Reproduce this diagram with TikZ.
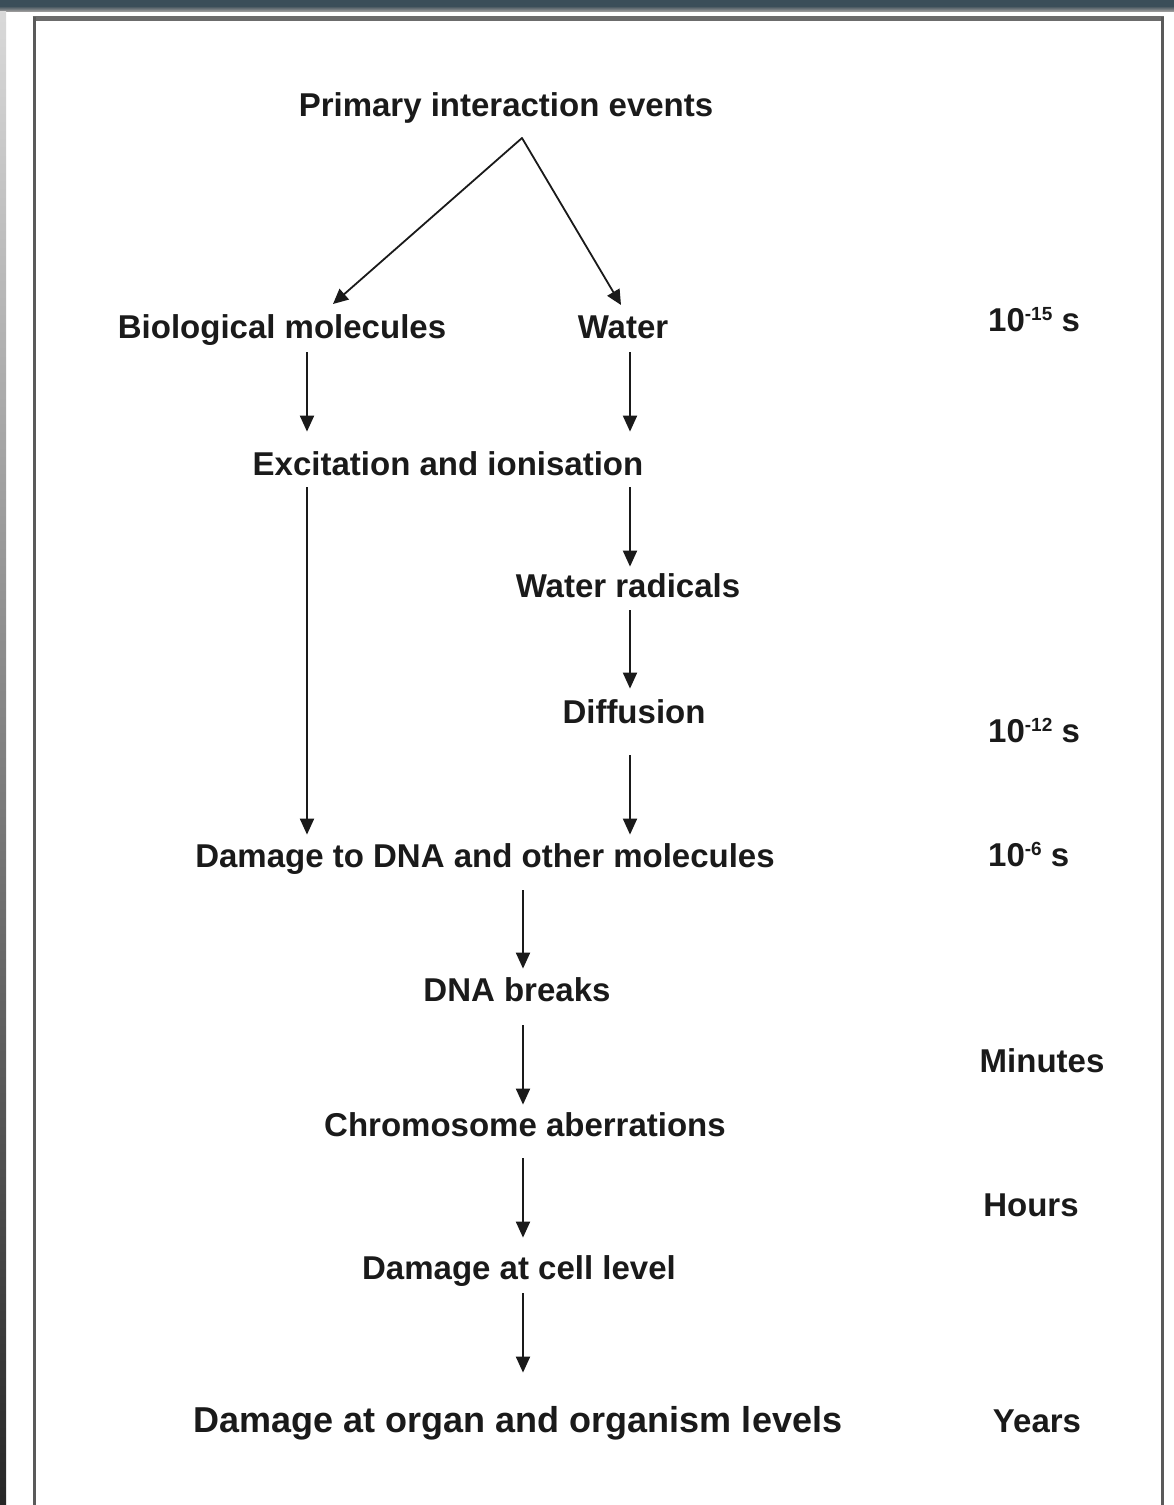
\documentclass[tikz,border=0pt]{standalone}
\usepackage{fontspec}
\setmainfont{Liberation Sans}
\usetikzlibrary{arrows.meta}
\definecolor{ink}{HTML}{1A1A1A}
\definecolor{topbar}{HTML}{3B4E59}
\definecolor{boxline}{HTML}{5A5A5A}
\newcommand{\tsup}[1]{\raisebox{11pt}{\fontsize{19}{20}\selectfont\bfseries #1}}
\begin{document}
\begin{tikzpicture}[x=1pt,y=-1pt,
  lbl/.style={font=\fontsize{33}{40}\selectfont\bfseries, text=ink, inner sep=0pt,
              text height=24pt, text depth=0pt, anchor=south},
  biglbl/.style={lbl, font=\fontsize{36}{43}\selectfont\bfseries, text height=26pt},
  timelbl/.style={lbl},
  arr/.style={draw=ink, line width=2pt, -{Triangle[width=14pt,length=16pt]}},
  slant/.style={draw=ink, line width=1.8pt, line cap=round, -{Triangle[width=14pt,length=15pt]}},
]
% page and frame
\useasboundingbox (0,0) rectangle (1174,1505);
\fill[white] (0,0) rectangle (1174,1505);
\fill[topbar] (0,0) rectangle (1174,7);
\shade[top color=topbar!70!gray, bottom color=gray!80] (0,7) rectangle (1174,11);
\shade[top color=gray!30, bottom color=black!85] (0,11) rectangle (6,1505);
\draw[gray!85!black, line width=5pt] (32.5,18) -- (1163.5,18);
\draw[boxline, line width=3pt] (34,1510) -- (34,17) (1162,17) -- (1162,1510);

% columns
\coordinate (colL) at (307,0);
\coordinate (colR) at (630,0);
\coordinate (colM) at (523,0);

% labels
\node[lbl] (prim)   at (506,117)  {Primary interaction events};
\node[lbl] (bio)    at (282,339)  {Biological molecules};
\node[lbl] (water)  at (623,339)  {Water};
\node[lbl] (exc)    at (448,476)  {Excitation and ionisation};
\node[lbl] (wr)     at (628,598)  {Water radicals};
\node[lbl] (diff)   at (634,724)  {Diffusion};
\node[lbl] (dna)    at (485,868)  {Damage to DNA and other molecules};
\node[lbl] (breaks) at (517,1002) {DNA breaks};
\node[lbl] (chrom)  at (525,1137) {Chromosome aberrations};
\node[lbl] (cell)   at (519,1280) {Damage at cell level};
\node[biglbl] (organ) at (518,1433) {Damage at organ and organism levels};

% time scale
\node[timelbl, anchor=south west] (t15) at (988,332) {10\tsup{-15} s};
\node[timelbl, anchor=south west] (t12) at (988,743) {10\tsup{-12} s};
\node[timelbl, anchor=south west] (t6)  at (988,867) {10\tsup{-6} s};
\node[timelbl] (minutes) at (1042,1073) {Minutes};
\node[timelbl] (hours)   at (1031,1217) {Hours};
\node[timelbl] (years)   at (1037,1433) {Years};

% top branching
\coordinate (apex) at (522,138);
\coordinate (tipB) at (333,304);
\coordinate (tipW) at (621,305);
\draw[slant] (apex) -- (tipB);
\draw[slant] (apex) -- (tipW);

% vertical arrows
\draw[arr, shorten <=13pt, shorten >=20pt] (bio.south -| colL)   -- (exc.north -| colL);
\draw[arr, shorten <=13pt, shorten >=20pt] (water.south -| colR) -- (exc.north -| colR);
\draw[arr, shorten <=11pt, shorten >=9pt]  (exc.south -| colL)   -- (dna.north -| colL);
\draw[arr, shorten <=11pt, shorten >=7pt]  (exc.south -| colR)   -- (wr.north -| colR);
\draw[arr, shorten <=12pt, shorten >=11pt] (wr.south -| colR)    -- (diff.north -| colR);
\draw[arr, shorten <=31pt, shorten >=9pt]  (diff.south -| colR)  -- (dna.north -| colR);
\draw[arr, shorten <=22pt, shorten >=9pt]  (dna.south -| colM)   -- (breaks.north -| colM);
\draw[arr, shorten <=23pt, shorten >=8pt]  (breaks.south -| colM) -- (chrom.north -| colM);
\draw[arr, shorten <=21pt, shorten >=18pt] (chrom.south -| colM) -- (cell.north -| colM);
\draw[arr, shorten <=13pt, shorten >=34pt] (cell.south -| colM)  -- (organ.north -| colM);
\end{tikzpicture}
\end{document}
